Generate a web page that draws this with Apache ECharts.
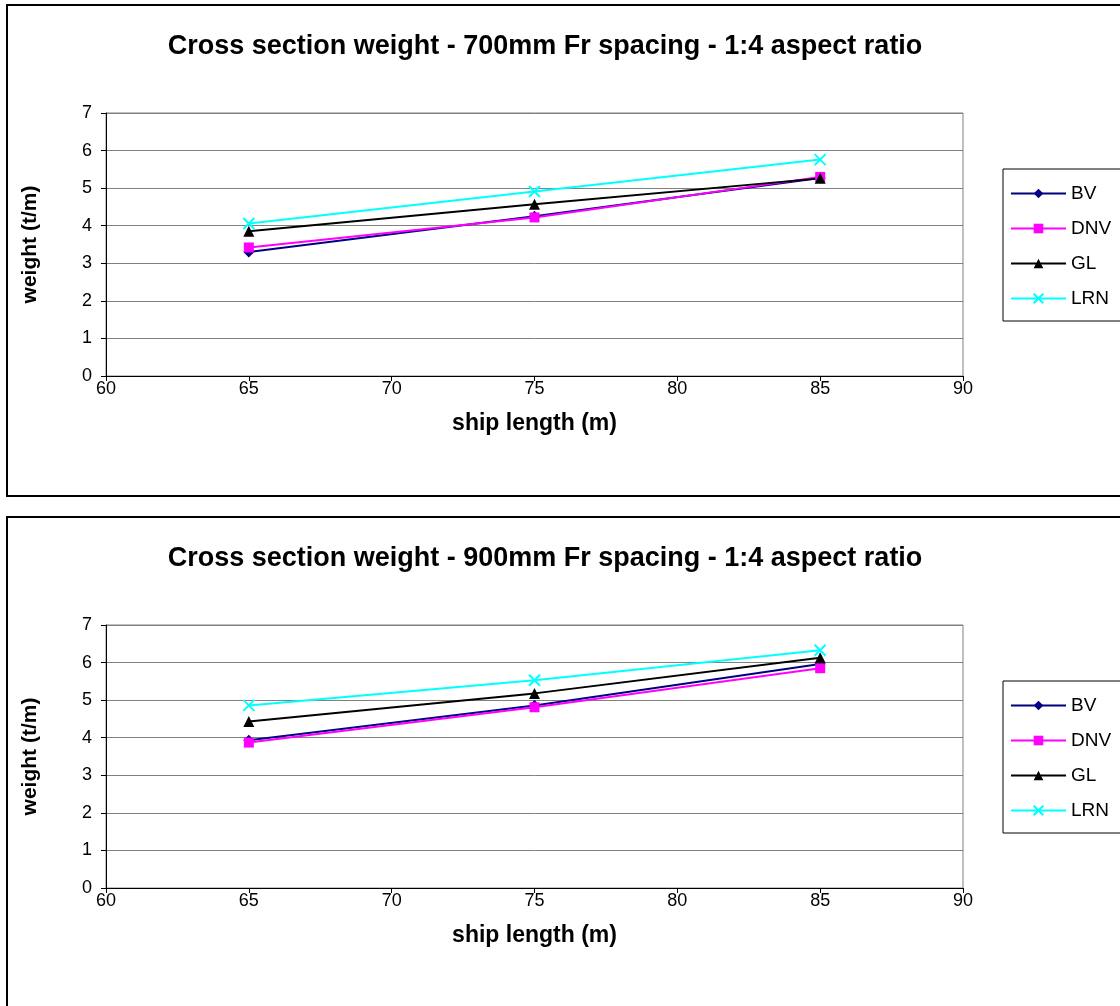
<!DOCTYPE html>
<html>
<head>
<meta charset="utf-8">
<script src="https://cdn.jsdelivr.net/npm/echarts@6/dist/echarts.min.js"></script>
<style>html,body{margin:0;padding:0;background:#fff}#c{width:1120px;height:1006px}</style>
</head>
<body>
<div id="c"></div>
<script>
const shipLength = [65, 75, 85];
const seriesNames = ['BV', 'DNV', 'GL', 'LRN'];
const titles = [
  'Cross section weight - 700mm Fr spacing - 1:4 aspect ratio',
  'Cross section weight - 900mm Fr spacing - 1:4 aspect ratio'
];
// 700mm chart
const bv700  = [3.30, 4.25, 5.27];
const dnv700 = [3.42, 4.22, 5.30];
const gl700  = [3.85, 4.57, 5.26];
const lrn700 = [4.06, 4.91, 5.76];
// 900mm chart
const bv900  = [3.93, 4.86, 5.96];
const dnv900 = [3.87, 4.81, 5.85];
const gl900  = [4.43, 5.18, 6.13];
const lrn900 = [4.86, 5.53, 6.33];
const xTicks = { min: 60, max: 90, interval: 5 };
const yTicks = { min: 0, max: 7, interval: 1 };

const FONT = '"Liberation Sans", Arial, sans-serif';
const colors = ['#000080', '#FF00FF', '#000000', '#00FFFF'];
const symbols = ['diamond', 'rect', 'triangle', 'path://M0,0L10,10M10,0L0,10'];
const symbolSizes = [11, 10, 11, 11];
const dataSets = [[bv700, dnv700, gl700, lrn700], [bv900, dnv900, gl900, lrn900]];

const OFF = 512;
const grids = [0, 1].map(i => ({ left: 106, top: 113 + i * OFF, width: 857, height: 263, show: true, borderColor: '#808080', borderWidth: 1, backgroundColor: '#fff' }));

const xAxes = [0, 1].map(i => ({
  type: 'value', gridIndex: i, min: xTicks.min, max: xTicks.max, interval: xTicks.interval,
  name: 'ship length (m)', nameLocation: 'middle', nameGap: 36,
  nameTextStyle: { fontFamily: FONT, fontSize: 23, fontWeight: 'bold', color: '#000' },
  axisLine: { lineStyle: { color: '#000', width: 1 } },
  axisTick: { show: true, length: 5, lineStyle: { color: '#000' } },
  axisLabel: { fontFamily: FONT, fontSize: 18, color: '#000', margin: 4 },
  splitLine: { show: false }
}));
const yAxes = [0, 1].map(i => ({
  type: 'value', gridIndex: i, min: yTicks.min, max: yTicks.max, interval: yTicks.interval,
  name: 'weight (t/m)', nameLocation: 'middle', nameGap: 65,
  nameTextStyle: { fontFamily: FONT, fontSize: 21, fontWeight: 'bold', color: '#000' },
  axisLine: { show: true, lineStyle: { color: '#000', width: 1 } },
  axisTick: { show: true, length: 5, lineStyle: { color: '#000' } },
  axisLabel: { fontFamily: FONT, fontSize: 18, color: '#000', margin: 14 },
  splitLine: { show: true, lineStyle: { color: '#808080', width: 1 } }
}));

const series = [];
[0, 1].forEach(g => {
  seriesNames.forEach((n, k) => {
    const isX = k === 3;
    series.push({
      name: n, type: 'line', xAxisIndex: g, yAxisIndex: g,
      data: shipLength.map((x, j) => [x, dataSets[g][k][j]]),
      symbol: symbols[k], symbolSize: symbolSizes[k], showSymbol: true,
      lineStyle: { color: colors[k], width: 2 },
      itemStyle: isX ? { color: 'none', borderColor: colors[k], borderWidth: 2 } : { color: colors[k], borderWidth: 0 },
      emphasis: { disabled: true },
      animation: false
    });
  });
});

const legends = [0, 1].map(i => ({
  data: seriesNames, orient: 'vertical', left: 1010, top: 184 + i * OFF, padding: 0,
  itemWidth: 55, itemHeight: 12, itemGap: 16,
  textStyle: { fontFamily: FONT, fontSize: 19, color: '#000', padding: [0, 0, 0, 0] },
  selectedMode: false
}));

const titleOpts = [0, 1].map(i => ({
  text: titles[i], left: 540, top: 28 + i * OFF, textAlign: 'center',
  textStyle: { fontFamily: FONT, fontSize: 27, fontWeight: 'bold', color: '#000' }
}));

const graphic = [];
[0, 1].forEach(i => {
  graphic.push({ type: 'rect', z: -10, silent: true, shape: { x: 7, y: 5 + i * OFF, width: 1130, height: i === 0 ? 491 : 600 }, style: { fill: '#fff', stroke: '#000', lineWidth: 2 } });
  graphic.push({ type: 'rect', z: -5, silent: true, shape: { x: 1003, y: 169 + i * OFF, width: 140, height: 152 }, style: { fill: '#fff', stroke: '#000', lineWidth: 1 } });
});

const chart = echarts.init(document.getElementById('c'), null, { renderer: 'canvas' });
chart.setOption({
  backgroundColor: '#fff',
  animation: false,
  title: titleOpts,
  grid: grids,
  xAxis: xAxes,
  yAxis: yAxes,
  legend: legends,
  series: series,
  graphic: graphic
});
</script>
</body>
</html>
